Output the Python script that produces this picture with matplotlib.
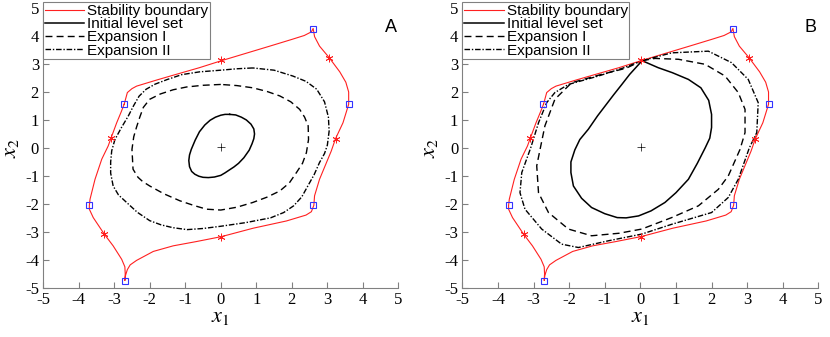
import matplotlib
matplotlib.use("Agg")
import matplotlib.pyplot as plt

plt.rcParams['mathtext.fontset'] = 'stix'
plt.rcParams['font.family'] = 'Liberation Serif'
plt.rcParams['axes.unicode_minus'] = False

# stability boundary (same in both panels)
bnd_x = [-2.72, -2.63, -2.5, -2.37, -1.8, -1.34, -0.6, 0.02, 0.7, 1.38, 2.0, 2.35, 2.55, 2.6,
         2.64, 2.78, 3.05, 3.35, 3.52, 3.6, 3.6, 3.44, 3.23, 3.11, 2.95, 2.78, 2.64, 2.62, 2.55,
         2.4, 1.85, 0.91, 0.02, -0.7, -1.34, -1.9, -2.37, -2.55, -2.63, -2.68, -2.7,
         -2.69, -2.7, -2.79, -3.03, -3.28, -3.59, -3.7, -3.7, -3.68, -3.54, -3.35, -3.17,
         -3.09, -2.93, -2.8, -2.72]
bnd_y = [1.56, 1.98, 2.12, 2.21, 2.43, 2.6, 2.87, 3.12, 3.38, 3.64, 3.88, 4.02, 4.15, 4.27,
         3.98, 3.64, 3.23, 2.72, 2.35, 2.0, 1.56, 0.9, 0.33, -0.11, -0.6, -1.12, -1.71, -2.05, -2.28,
         -2.4, -2.61, -2.87, -3.17, -3.35, -3.5, -3.7, -4.02, -4.18, -4.35, -4.55, -4.74,
         -4.5, -4.25, -3.98, -3.5, -3.08, -2.49, -2.19, -2.05, -1.83, -1.12, -0.4, 0.07,
         0.35, 0.9, 1.3, 1.56]
sq_x = [2.6, 3.6, 2.61, -2.7, -3.7, -2.72]
sq_y = [4.27, 1.56, -2.05, -4.74, -2.05, 1.56]
star_x = [0.02, 3.05, 3.23, 0.02, -3.28, -3.09]
star_y = [3.13, 3.23, 0.33, -3.17, -3.08, 0.35]
eq_x, eq_y = 0.02, 0.05

# panel A
a_init_x = [0.25, 0.42, 0.58, 0.72, 0.85, 0.93, 0.95, 0.93, 0.88, 0.8, 0.65, 0.5, 0.37, 0.25, 0.12, 0.0, -0.18, -0.35,
            -0.5, -0.62, -0.73, -0.82, -0.88, -0.9, -0.88, -0.83, -0.72, -0.6, -0.45, -0.3, -0.15, 0.0, 0.12, 0.25]
a_init_y = [1.2, 1.18, 1.1, 1.0, 0.85, 0.68, 0.5, 0.33, 0.15, -0.08, -0.35, -0.55, -0.68, -0.78, -0.89, -0.98, -1.04, -1.06,
            -1.05, -1.01, -0.94, -0.84, -0.67, -0.45, -0.25, -0.05, 0.28, 0.58, 0.82, 0.99, 1.1, 1.17, 1.2, 1.2]
a_exp1_x = [0.0, -0.5, -0.96, -1.34, -1.7, -2.0, -2.18, -2.28, -2.37, -2.45, -2.5, -2.47, -2.33, -2.2, -2.0, -1.6, -1.15, -0.75,
            -0.4, 0.0, 0.45, 0.9, 1.3, 1.66, 1.93, 2.13, 2.3, 2.41, 2.47, 2.46, 2.36, 2.22, 1.97, 1.66, 1.3, 0.9, 0.45, 0.0]
a_exp1_y = [2.27, 2.24, 2.18, 2.08, 1.93, 1.74, 1.45, 1.1, 0.75, 0.4, -0.05, -0.76, -1.05, -1.2, -1.36, -1.64, -1.89, -2.06,
            -2.19, -2.22, -2.12, -1.95, -1.76, -1.54, -1.25, -0.88, -0.55, -0.17, 0.3, 0.79, 1.1, 1.38, 1.65, 1.86, 2.02, 2.15, 2.23, 2.27]
a_exp2_x = [0.9, 0.45, 0.0, -0.6, -1.1, -1.5, -1.85, -2.1, -2.3, -2.45, -2.6, -2.8, -2.98, -3.07, -3.1, -3.1, -3.03, -2.88, -2.65,
            -2.35, -2.0, -1.68, -1.35, -0.95, -0.5, 0.0, 0.7, 1.4, 1.77, 2.05, 2.28, 2.45, 2.63, 2.78, 2.92, 3.0, 3.05, 3.03, 2.92, 2.7,
            2.4, 2.03, 1.5, 0.9]
a_exp2_y = [2.86, 2.83, 2.78, 2.72, 2.62, 2.45, 2.28, 2.1, 1.85, 1.52, 1.15, 0.72, 0.3, -0.1, -0.5, -0.9, -1.36, -1.68, -1.95,
            -2.3, -2.6, -2.75, -2.85, -2.92, -2.88, -2.8, -2.67, -2.5, -2.31, -2.07, -1.75, -1.36, -0.95, -0.52, -0.2, 0.1, 0.6, 1.1,
            1.65, 2.1, 2.38, 2.57, 2.78, 2.86]

# panel B
b_init_x = [0.05, 0.5, 0.9, 1.35, 1.7, 1.92, 2.0, 2.0, 1.95, 1.82, 1.6, 1.35, 1.0, 0.69, 0.3, -0.05, -0.4, -0.65, -1.0, -1.37,
            -1.65, -1.88, -1.95, -1.95, -1.84, -1.7, -1.46, -1.2, -0.99, -0.75, -0.52, -0.3, 0.05]
b_init_y = [3.12, 2.87, 2.69, 2.45, 2.15, 1.7, 1.2, 0.73, 0.35, 0.0, -0.55, -1.12, -1.6, -1.95, -2.25, -2.43, -2.5, -2.49,
            -2.35, -2.13, -1.8, -1.36, -0.88, -0.5, -0.07, 0.3, 0.67, 1.15, 1.5, 1.9, 2.27, 2.63, 3.12]
b_exp1_x = [0.05, 0.41, 1.07, 1.82, 2.38, 2.75, 2.94, 2.94, 2.8, 2.47, 2.19, 1.63, 0.88, 0.04, -0.6, -1.37, -2.02, -2.58,
            -2.86, -2.91, -2.8, -2.68, -2.4, -1.93, -1.09, -0.4, 0.05]
b_exp1_y = [3.12, 3.2, 3.17, 2.99, 2.57, 1.98, 1.38, 0.55, -0.05, -1.0, -1.48, -2.07, -2.49, -2.9, -3.05, -3.14, -2.9, -2.31,
            -1.6, -0.64, 0.05, 0.79, 1.74, 2.33, 2.63, 2.85, 3.12]
b_exp2_x = [0.05, 0.88, 1.91, 2.56, 3.03, 3.31, 3.27, 3.06, 2.75, 2.47, 2.0, 0.88, 0.04, -0.9, -1.74, -2.21, -2.77, -3.24,
            -3.38, -3.33, -3.08, -2.86, -2.63, -2.4, -2.02, -1.18, -0.5, 0.05]
b_exp2_y = [3.12, 3.4, 3.46, 3.05, 2.45, 1.62, 0.55, 0.0, -1.12, -1.77, -2.31, -2.73, -3.08, -3.32, -3.56, -3.44, -2.9, -2.19,
            -1.6, -0.88, 0.0, 0.9, 1.62, 1.98, 2.27, 2.57, 2.85, 3.12]

ticks = [-5, -4, -3, -2, -1, 0, 1, 2, 3, 4, 5]

fig = plt.figure(figsize=(8.3, 3.37), dpi=100)
panels = [
    ([0.052, 0.146, 0.428, 0.830], 'A', a_init_x, a_init_y, a_exp1_x, a_exp1_y, a_exp2_x, a_exp2_y),
    ([0.557, 0.146, 0.429, 0.830], 'B', b_init_x, b_init_y, b_exp1_x, b_exp1_y, b_exp2_x, b_exp2_y),
]
for rect, tag, ix, iy, e1x, e1y, e2x, e2y in panels:
    ax = fig.add_axes(rect)
    ax.plot(bnd_x, bnd_y, color='#ff2020', lw=0.8, label='Stability boundary')
    ax.plot(ix, iy, color='black', lw=1.1, label='Initial level set')
    ax.plot(e1x, e1y, color='black', lw=1.0, dashes=(5, 3), label='Expansion I')
    ax.plot(e2x, e2y, color='black', lw=1.0, dashes=(4, 1.3, 1, 1.3), label='Expansion II')
    ax.plot(sq_x, sq_y, ls='none', marker='s', ms=4.5, mfc='none', mec='#3333ff', mew=0.8)
    ax.plot(star_x, star_y, ls='none', marker=(6, 2, 0), ms=5.5, color='#ff2020', mew=0.6)
    ax.plot(eq_x, eq_y, ls='none', marker='+', ms=6, color='black', mew=0.5)

    ax.set_xlim(-5, 5)
    ax.set_ylim(-5, 5)
    ax.set_xticks(ticks)
    ax.set_yticks(ticks)
    ax.tick_params(direction='in', length=4, width=0.8, color='#808080', labelsize=12, pad=3)
    ax.spines['top'].set_visible(False)
    ax.spines['right'].set_visible(False)
    ax.spines['left'].set_color('#808080')
    ax.spines['bottom'].set_color('#808080')
    ax.set_xlabel(r'$x_1$', fontsize=16, labelpad=0)
    ax.set_ylabel(r'$x_2$', fontsize=16, labelpad=3)
    ax.text(4.95, 4.3, tag, fontsize=13, family='Liberation Sans', ha='right', va='center')

    leg = ax.legend(loc='upper left', bbox_to_anchor=(0.0, 1.02),
                    prop={'family': 'Liberation Sans', 'size': 11},
                    frameon=True, fancybox=False, edgecolor='#808080', framealpha=1,
                    borderpad=0.1, labelspacing=-0.05, handlelength=2.6, handletextpad=0.2,
                    borderaxespad=0.0)
    leg.get_frame().set_linewidth(0.8)

fig.savefig('out.png', dpi=100)
